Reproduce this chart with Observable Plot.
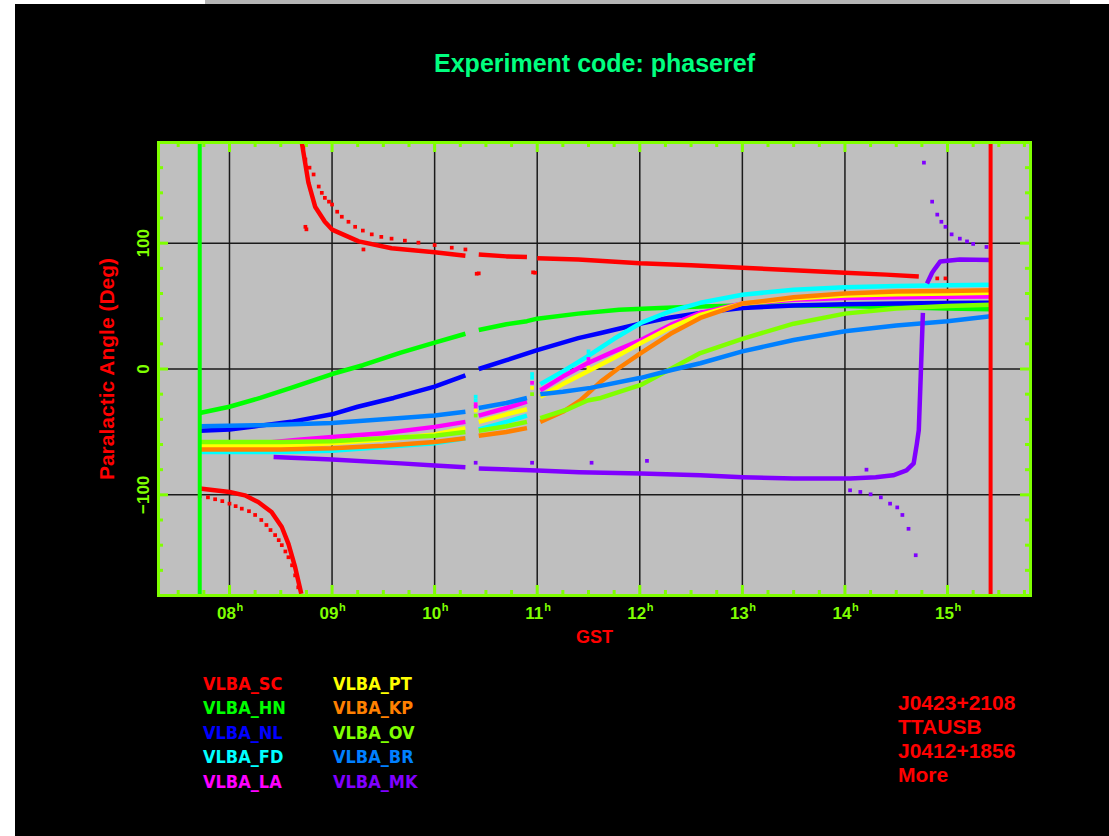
<!DOCTYPE html>
<html>
<head>
<meta charset="utf-8">
<script src="https://cdn.jsdelivr.net/npm/d3@7"></script>
<script src="https://cdn.jsdelivr.net/npm/@observablehq/plot@0.6"></script>
<style>
  html, body { margin: 0; padding: 0; background: #ffffff; }
  #page { position: relative; width: 1109px; height: 836px; overflow: hidden; background: #ffffff; }
  #black { position: absolute; left: 15px; top: 4px; width: 1094px; height: 832px; background: #000000; }
  #strip { position: absolute; left: 205px; top: 0px; width: 865px; height: 4px; background: #b4b4b4; }
  #chart { position: absolute; left: 0; top: 0; }
  .legend { position: absolute; font-family: "DejaVu Sans Condensed", "Liberation Sans", sans-serif; font-weight: bold; font-size: 18px; line-height: 24.5px; white-space: nowrap; }
  .info { position: absolute; left: 898px; top: 690.6px; font-family: "Liberation Sans", sans-serif; font-weight: bold; font-size: 21px; line-height: 24.3px; color: #ff0000; white-space: nowrap; }
</style>
</head>
<body>
<div id="page">
  <div id="black"></div>
  <div id="strip"></div>
  <div id="chart"></div>
  <div class="legend" id="leg1" style="left:203px; top:671.5px;"></div>
  <div class="legend" id="leg2" style="left:333px; top:671.5px;"></div>
  <div class="info" id="info"></div>
</div>
<script>
// ---------------- data ----------------
const titleText = "Experiment code: phaseref";
const xLabel = "GST";
const yLabel = "Paralactic Angle (Deg)";
const hourTicks = [8, 9, 10, 11, 12, 13, 14, 15];
const hourLabels = ["08", "09", "10", "11", "12", "13", "14", "15"];
const angleTicks = [-100, 0, 100];
const angleLabels = ["\u2212100", "0", "100"];
const stations = ["VLBA_SC", "VLBA_HN", "VLBA_NL", "VLBA_FD", "VLBA_LA", "VLBA_PT", "VLBA_KP", "VLBA_OV", "VLBA_BR", "VLBA_MK"];
const stationColors = ["#ff0000", "#00ff00", "#0000ff", "#00ffff", "#ff00ff", "#ffff00", "#ff8000", "#80ff00", "#0080ff", "#8000ff"];
const sourceInfo = ["J0423+2108", "TTAUSB", "J0412+1856", "More"];
const scanStart = 7.71;   // green marker (GST hours)
const scanEnd = 15.42;    // red marker (GST hours)

// [GST hours, parallactic angle deg]; null angle = gap between scans
const scTrack = [[7.71,-95],[8.0,-97.7],[8.15,-100.4],[8.28,-105.7],[8.41,-113.7],[8.51,-125.6],[8.575,-139],[8.64,-157.5],[8.70,-178.7],[8.702,null],
  [8.705,180],[8.77,148],[8.835,129],[8.93,117],[9.0,110.8],[9.26,101.4],[9.58,96],[10.0,92.7],[10.30,90],[10.36,null],
  [10.43,91],[10.7,89.5],[10.9,89],[10.95,null],[11.0,88],[11.4,87],[12.0,84],[12.5,82.5],[13.0,80.5],[13.5,78.5],[14.0,76.5],[14.4,75],[14.72,73.6]];
const hnTrack = [[7.71,-35],[8.0,-30],[8.3,-23],[8.6,-15],[9.0,-4],[9.3,3],[9.67,13],[10.0,21],[10.3,28],[10.36,null],
  [10.43,31],[10.7,35.5],[10.9,38],[11.0,40],[11.4,44],[11.8,47],[12.2,48.5],[12.6,49.6],[13.0,50.5],[13.5,50.5],[14.0,50],[14.5,49],[15.0,48],[15.42,47.5]];
const nlTrack = [[7.71,-49],[8.0,-48],[8.3,-45],[8.6,-42],[9.0,-36],[9.25,-30],[9.6,-23],[10.0,-14],[10.3,-5],[10.36,null],
  [10.43,0],[10.7,7],[11.0,15],[11.4,24.5],[11.62,28.6],[12.0,36],[12.3,41],[12.59,44.6],[13.0,48.5],[13.5,50.5],[14.0,51.5],[14.5,52],[15.0,52.5],[15.42,52.6]];
const fdTrack = [[7.71,-66],[8.5,-66],[9.0,-65],[9.5,-62],[10.0,-59],[10.3,-55],[10.36,null],[10.43,-48],[10.7,-42],[10.9,-37],[10.95,null],
  [11.03,-12],[11.25,-2],[11.49,10],[11.75,24],[12.01,36.6],[12.3,46],[12.59,52.6],[13.0,59],[13.5,63],[14.0,65],[14.5,66],[15.0,66.5],[15.42,67]];
const laTrack = [[7.71,-60],[8.3,-59],[8.7,-56],[9.0,-54],[9.5,-51],[10.0,-46],[10.3,-42],[10.36,null],[10.43,-37],[10.7,-31],[10.9,-26],[10.95,null],
  [11.03,-17],[11.25,-6],[11.49,4.6],[11.75,14],[12.01,23],[12.3,35],[12.59,44.6],[13.0,52],[13.5,55],[14.0,56.5],[14.5,57],[15.0,57.5],[15.42,57.6]];
const ptTrack = [[7.71,-61],[8.5,-61],[9.0,-59],[9.5,-56],[10.0,-52],[10.3,-47],[10.36,null],[10.43,-42],[10.7,-36],[10.9,-32],[10.95,null],
  [11.03,-22],[11.25,-12],[11.49,-2],[11.75,9],[12.01,20.7],[12.3,33],[12.59,43],[13.0,52],[13.5,56],[14.0,58.5],[14.5,59.5],[15.0,60],[15.42,60.5]];
const kpTrack = [[7.71,-64],[8.5,-64],[9.0,-63],[9.5,-61],[10.0,-58],[10.3,-55],[10.36,null],[10.43,-53],[10.7,-50],[10.9,-47],[10.95,null],
  [11.03,-42],[11.25,-34],[11.42,-25],[11.62,-10],[11.8,1],[12.01,12.7],[12.3,28],[12.59,40.6],[13.0,52],[13.5,57],[14.0,60],[14.5,61.5],[15.0,62],[15.42,62.5]];
const ovTrack = [[7.71,-58],[8.5,-58],[9.0,-57.5],[9.5,-55],[10.0,-53],[10.3,-50],[10.36,null],[10.43,-49],[10.7,-45.5],[10.9,-42],[10.95,null],
  [11.03,-39],[11.3,-32],[11.49,-25],[11.62,-23],[12.01,-12.7],[12.3,0],[12.59,12.7],[13.0,24],[13.5,36],[14.0,44],[14.5,48],[15.0,50],[15.42,51]];
const brTrack = [[7.71,-45.5],[8.3,-44.7],[9.0,-43],[9.67,-39],[10.0,-37],[10.3,-34],[10.36,null],[10.43,-31],[10.7,-27],[10.9,-23],[10.95,null],
  [11.03,-20],[11.25,-18],[11.52,-15],[12.01,-7],[12.3,-1],[12.59,4.6],[13.0,14],[13.5,23],[14.0,30],[14.5,34.5],[15.0,38],[15.42,42]];
const mkTrack = [[8.43,-70],[9.0,-72],[9.67,-75],[10.0,-76.6],[10.3,-78],[10.36,null],[10.43,-79],[11.0,-80.6],[11.41,-82],[12.01,-83],[12.59,-84.5],
  [13.0,-86],[13.5,-87],[14.05,-87],[14.3,-86],[14.47,-84.5],[14.6,-80.5],[14.67,-75],[14.70,-60],[14.72,-48.6],[14.74,-3],[14.76,44.6],[14.77,null],
  [14.80,68],[14.85,76.5],[14.88,80],[14.93,85.5],[15.12,87],[15.42,86.6]];
const tracks = [scTrack, hnTrack, nlTrack, fdTrack, laTrack, ptTrack, kpTrack, ovTrack, brTrack, mkTrack];

// scattered points (second source of the pair / outliers)
const scDots = [[7.71,-101],[7.79,-102],[7.86,-103.5],[7.93,-105],[8.0,-107],[8.06,-109],[8.12,-111],[8.19,-113],[8.25,-116],[8.31,-120],[8.36,-124],
  [8.40,-128],[8.445,-132],[8.48,-136],[8.51,-140],[8.545,-145],[8.575,-149.6],[8.61,-156],[8.64,-164],[8.67,-173.5],
  [8.72,176],[8.74,166.5],[8.78,160],[8.82,154.6],[8.87,145],[8.90,140],[8.93,136],[8.97,133],[9.0,130.7],[9.05,125],[9.095,121],[9.16,117],
  [9.225,113],[9.30,110],[9.387,107],[9.48,105],[9.58,103.6],[9.71,102],[9.842,100.4],[10.0,98.5],[10.167,96.4],[10.30,95],
  [8.74,113],[8.75,111],[9.306,95],[10.41,75.7],[10.43,76],[10.96,76.8],[10.98,76.5],[14.90,72],[14.98,72]];
const mkDots = [[14.77,164],[14.85,133],[14.90,122.7],[14.94,117],[14.98,113],[15.04,107],[15.12,103.6],[15.19,101.4],[15.25,99.4],[15.38,97],
  [14.05,-96.4],[14.15,-97.7],[14.25,-99.6],[14.35,-102],[14.44,-107],[14.51,-110],[14.56,-116],[14.62,-127],[14.69,-148],
  [10.40,-74.5],[10.95,-74.5],[11.53,-74.5],[12.07,-73],[14.21,-80]];
// short spikes at scan boundaries
const fdDots = [[10.40,-22],[10.40,-25],[10.95,-4],[10.95,-7],[11.50,11],[11.50,14]];
const laDots = [[10.40,-28],[10.40,-30],[10.95,-11],[11.50,5],[11.50,8]];
const ptDots = [[10.40,-33],[10.95,-15],[11.50,1]];
const ovDots = [[10.40,-37],[10.95,-20]];
const dotSets = [[scDots, 0], [fdDots, 3], [laDots, 4], [ptDots, 5], [ovDots, 7], [mkDots, 9]];

// ---------------- layout ----------------
const W = 1109, H = 836, mL = 158, mR = 79, mT = 142, mB = 241;
const X0 = 7.308, X1 = 15.809, Y0 = -180, Y1 = 180;
const kx = (X1 - X0) / (W - mL - mR), ky = (Y1 - Y0) / (H - mT - mB);
const FG = "#7fff00";
const FONT = "Liberation Sans, Arial, sans-serif";
const minorHours = d3.range(7.5, 15.81, 0.25).filter(h => h % 1 !== 0);
const minorAngles = d3.range(-160, 161, 20).filter(a => a % 100 !== 0);

const dataMarks = tracks.map((t, i) => Plot.line(t, {
  x: d => d[0], y: d => d[1], stroke: stationColors[i], strokeWidth: 4.5,
  strokeLinejoin: "round", strokeLinecap: "butt", clip: true
}));
const dotMarks = dotSets.map(([arr, i]) => Plot.dot(arr, {
  x: d => d[0], y: d => d[1], symbol: "square", r: 2.1, fill: stationColors[i], stroke: null, clip: true
}));

const txt = {fontFamily: FONT, fontWeight: "bold"};

const chart = Plot.plot({
  width: W, height: H,
  marginLeft: mL, marginRight: mR, marginTop: mT, marginBottom: mB,
  x: {domain: [X0, X1], axis: null},
  y: {domain: [Y0, Y1], axis: null},
  style: {background: "transparent", fontFamily: FONT},
  marks: [
    Plot.frame({fill: "#bfbfbf", stroke: null}),
    Plot.ruleX(hourTicks, {x: d => d, stroke: "#1a1a1a", strokeWidth: 1.5}),
    Plot.ruleY(angleTicks, {y: d => d, stroke: "#1a1a1a", strokeWidth: 1.5}),
    ...dataMarks,
    ...dotMarks,
    Plot.ruleX([scanStart], {x: d => d, stroke: "#00ff00", strokeWidth: 4}),
    Plot.ruleX([scanEnd], {x: d => d, stroke: "#ff0000", strokeWidth: 4}),
    Plot.frame({stroke: FG, strokeWidth: 3}),
    // ticks (inward, all four sides)
    Plot.ruleX(hourTicks, {x: d => d, y1: Y0, y2: Y0 + 10 * ky, stroke: FG, strokeWidth: 3}),
    Plot.ruleX(hourTicks, {x: d => d, y1: Y1, y2: Y1 - 10 * ky, stroke: FG, strokeWidth: 3}),
    Plot.ruleX(minorHours, {x: d => d, y1: Y0, y2: Y0 + 5 * ky, stroke: FG, strokeWidth: 3}),
    Plot.ruleX(minorHours, {x: d => d, y1: Y1, y2: Y1 - 5 * ky, stroke: FG, strokeWidth: 3}),
    Plot.ruleY(angleTicks, {y: d => d, x1: X0, x2: X0 + 10 * kx, stroke: FG, strokeWidth: 3}),
    Plot.ruleY(angleTicks, {y: d => d, x1: X1, x2: X1 - 10 * kx, stroke: FG, strokeWidth: 3}),
    Plot.ruleY(minorAngles, {y: d => d, x1: X0, x2: X0 + 5 * kx, stroke: FG, strokeWidth: 3}),
    Plot.ruleY(minorAngles, {y: d => d, x1: X1, x2: X1 - 5 * kx, stroke: FG, strokeWidth: 3}),
    // tick labels
    Plot.text(hourTicks, {x: d => d, frameAnchor: "bottom", text: (d, i) => hourLabels[i], dx: -3, dy: 23,
      lineAnchor: "bottom", textAnchor: "middle", fill: FG, fontSize: 17, ...txt}),
    Plot.text(hourTicks, {x: d => d, frameAnchor: "bottom", text: () => "h", dx: 7, dy: 15,
      lineAnchor: "bottom", textAnchor: "start", fill: FG, fontSize: 11, ...txt}),
    Plot.text(angleTicks, {y: d => d, frameAnchor: "left", text: (d, i) => angleLabels[i], dx: -14.5, rotate: -90,
      lineAnchor: "middle", textAnchor: "middle", fill: FG, fontSize: 17, ...txt}),
    // titles
    Plot.text([titleText], {frameAnchor: "top", text: d => d, dy: -71, lineAnchor: "bottom", textAnchor: "middle",
      fill: "#00ff7f", fontSize: 25, ...txt}),
    Plot.text([xLabel], {frameAnchor: "bottom", text: d => d, dy: 47, lineAnchor: "bottom", textAnchor: "middle",
      fill: "#ff0000", fontSize: 18, ...txt}),
    Plot.text([yLabel], {frameAnchor: "left", text: d => d, dx: -51, rotate: -90, lineAnchor: "middle", textAnchor: "middle",
      fill: "#ff0000", fontSize: 21, ...txt})
  ]
});
document.getElementById("chart").appendChild(chart);

// legend (two columns of five) and source list
const leg1 = d3.select("#leg1"), leg2 = d3.select("#leg2");
stations.forEach((s, i) => {
  (i < 5 ? leg1 : leg2).append("div").style("color", stationColors[i]).text(s);
});
d3.select("#info").selectAll("div").data(sourceInfo).join("div").text(d => d);
</script>
</body>
</html>
